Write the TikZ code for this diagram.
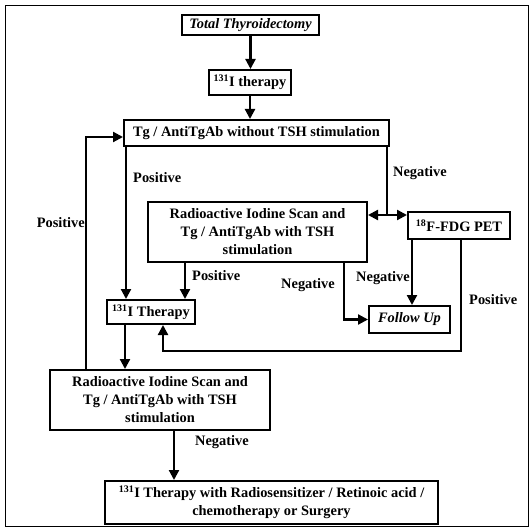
\documentclass[tikz,border=0pt]{standalone}
\usepackage{fontspec}
\setmainfont{Liberation Serif}
\usetikzlibrary{arrows.meta}
\begin{document}
\begin{tikzpicture}[x=1pt,y=-1pt,
  font=\fontsize{14.4}{18}\selectfont\bfseries,
  box/.style={draw,line width=2pt,inner sep=0pt,align=center,anchor=center},
  lbl/.style={inner sep=0pt},
  conn/.style={line width=2.2pt},
  arr/.style={conn,-{Triangle[length=10pt,width=10pt]}}]
\useasboundingbox (0,0) rectangle (532,529);
\fill[white] (0,0) rectangle (532,529);
\draw[line width=0.8pt] (5,5) rectangle (528,526);

\node[box,minimum width=137pt,minimum height=20pt] (total) at (250.5,25) {\itshape Total Thyroidectomy};
\node[box,minimum width=82pt,minimum height=25pt] (ther1) at (250,82.5) {\textsuperscript{131}I therapy};
\node[box,minimum width=265pt,minimum height=26pt] (tg) at (256.5,133) {Tg / AntiTgAb without TSH stimulation};
\node[box,minimum width=219pt,minimum height=60pt] (rad1) at (257.5,232) {Radioactive Iodine Scan and\\Tg / AntiTgAb with TSH\\stimulation};
\node[box,minimum width=102pt,minimum height=27pt] (pet) at (459,225.5) {\textsuperscript{18}F-FDG PET};
\node[box,minimum width=88pt,minimum height=24pt] (ther2) at (151,312) {\textsuperscript{131}I Therapy};
\node[box,minimum width=81pt,minimum height=27pt] (follow) at (409.5,319.5) {\itshape Follow Up};
\node[box,minimum width=220pt,minimum height=60pt] (rad2) at (160,400) {Radioactive Iodine Scan and\\Tg / AntiTgAb with TSH\\stimulation};
\node[box,minimum width=333pt,minimum height=43pt] (final) at (271.5,502.5) {\textsuperscript{131}I Therapy with Radiosensitizer / Retinoic acid /\\chemotherapy or Surgery};

% labels
\node[lbl,anchor=west] (l1) at (133,178) {Positive};
\node[lbl,anchor=west] (l2) at (393,173) {Negative};
\node[lbl,anchor=west] (l3) at (192,276) {Positive};
\node[lbl,anchor=east] (l4) at (335,285) {Negative};
\node[lbl,anchor=east] (l5) at (410,278) {Negative};
\node[lbl,anchor=west] (l6) at (469,300) {Positive};
\node[lbl,anchor=east] (l7) at (85,223) {Positive};
\node[lbl,anchor=west] (l8) at (195,442) {Negative};

% connectors
\draw[arr] (total.south) -- (total.south |- ther1.north);
\draw[arr] (ther1.south) -- (ther1.south |- tg.north);

\coordinate (a1) at ([xshift=3pt]tg.south west);
\draw[arr] (a1) -- (a1 |- ther2.north);

\coordinate (tgr) at ([xshift=-3pt]tg.south east);
\coordinate (ra) at ([yshift=-14pt]rad1.north east);
\coordinate (j) at (tgr |- ra);
\draw[conn] (tgr) -- (j);
\draw[arr] (j) -- (ra);
\draw[arr] (j) -- (ra -| pet.west);

\coordinate (b1) at ([xshift=38pt]rad1.south west);
\draw[arr] (b1) -- (b1 |- ther2.north);

\coordinate (b2) at ([xshift=-24pt]rad1.south east);
\draw[arr] (b2) -- (b2 |- follow.west) -- (follow.west);

\coordinate (c1) at ([xshift=5pt]pet.south west);
\draw[arr] (c1) -- (c1 |- follow.north);

\coordinate (c2) at ([xshift=54pt]pet.south west);
\coordinate (lp) at ([yshift=-26pt]ther2.south);
\coordinate (c3) at ([xshift=57pt]ther2.south west);
\draw[arr] (c2) -- (c2 |- lp) -- (c3 |- lp) -- (c3);

\coordinate (d1) at ([xshift=19pt]ther2.south west);
\draw[arr] (d1) -- (d1 |- rad2.north);

\coordinate (e1) at ([xshift=37pt]rad2.north west);
\coordinate (e2) at ([yshift=-4pt]tg.west);
\draw[arr] (e1) -- (e1 |- e2) -- (e2);

\coordinate (f1) at ([xshift=125pt]rad2.south west);
\draw[arr] (f1) -- (f1 |- final.north);
\end{tikzpicture}
\end{document}
